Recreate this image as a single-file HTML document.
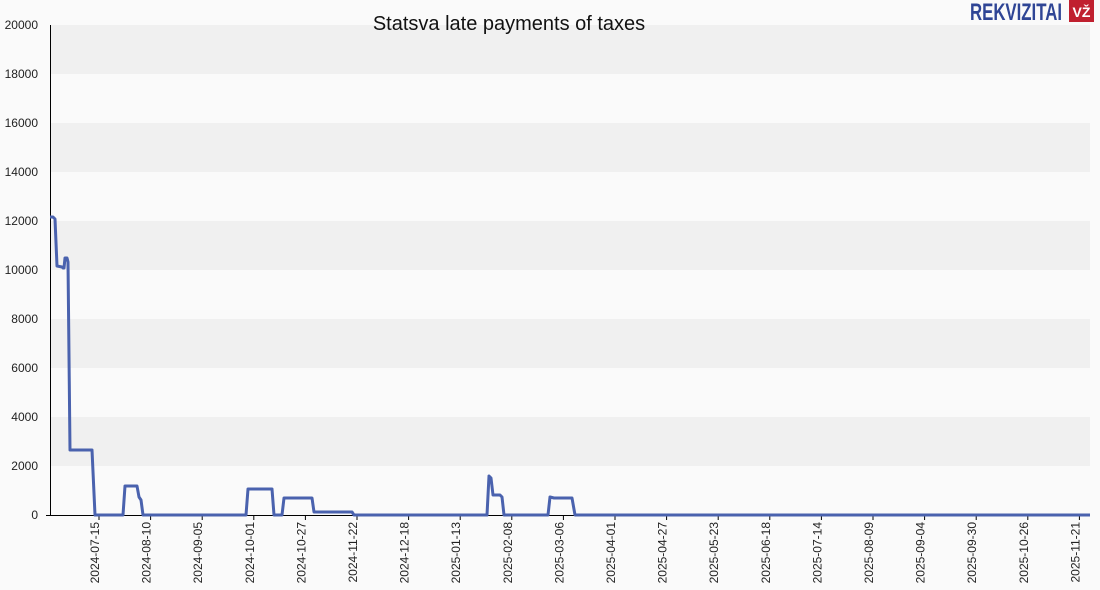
<!DOCTYPE html>
<html><head><meta charset="utf-8"><style>
body{margin:0;background:#fafafa;}
svg{display:block;font-family:"Liberation Sans",sans-serif;}
</style></head><body>
<svg width="1100" height="590" viewBox="0 0 1100 590" xmlns="http://www.w3.org/2000/svg">
<rect width="1100" height="590" fill="#fafafa"/>
<g fill="#f0f0f0">
<rect x="50" y="25" width="1040" height="49"/>
<rect x="50" y="123" width="1040" height="49"/>
<rect x="50" y="221" width="1040" height="49"/>
<rect x="50" y="319" width="1040" height="49"/>
<rect x="50" y="417" width="1040" height="49"/>
</g>
<text x="509" y="30" font-size="20" text-anchor="middle" fill="#111">Statsva late payments of taxes</text>
<text x="970" y="20" font-size="24" font-weight="bold" fill="#2f4595" textLength="92" lengthAdjust="spacingAndGlyphs">REKVIZITAI</text>
<rect x="1069" y="0" width="25" height="22" fill="#c0202f"/>
<text x="1081.5" y="17" font-size="14" font-weight="bold" fill="#fff" text-anchor="middle">VŽ</text>
<g stroke="#000" stroke-width="1">
<line x1="50.5" y1="25" x2="50.5" y2="515"/>
<line x1="46" y1="515.5" x2="1090" y2="515.5"/>
</g>
<g font-size="12" fill="#222" text-anchor="end">
<text x="38" y="519">0</text><text x="38" y="470">2000</text><text x="38" y="421">4000</text>
<text x="38" y="372">6000</text><text x="38" y="323">8000</text><text x="38" y="274">10000</text>
<text x="38" y="225">12000</text><text x="38" y="176">14000</text><text x="38" y="127">16000</text>
<text x="38" y="78">18000</text><text x="38" y="29">20000</text>
</g>
<g stroke="#000" stroke-width="1" id="ticks"></g>
<g font-size="12" fill="#222" id="xl"></g>
<polyline fill="none" stroke="#4a62ae" stroke-width="3" stroke-linejoin="round" points="50,217 53,217 55,219 57,266 62,267 63,268 64,268 65,258 67,258 68,262 70,450 72,450 92,450 95,515 123,515 125,486 137,486 139,497 141,500 143,515 246,515 248,489 272,489 274,515 282,515 284,498 312,498 314,512 352,512 354,515 487,515 489,476 491,478 493,495 500,495 502,497 504,515 548,515 550,497 554,498 572,498 575,515 1090,515"/>
</svg>
<script>
var d=["2024-07-15","2024-08-10","2024-09-05","2024-10-01","2024-10-27","2024-11-22","2024-12-18","2025-01-13","2025-02-08","2025-03-06","2025-04-01","2025-04-27","2025-05-23","2025-06-18","2025-07-14","2025-08-09","2025-09-04","2025-09-30","2025-10-26","2025-11-21"];
var ns="http://www.w3.org/2000/svg",t=document.getElementById("ticks"),xl=document.getElementById("xl");
d.forEach(function(s,i){var x=99+i*51.6;
var l=document.createElementNS(ns,"line");l.setAttribute("x1",x);l.setAttribute("x2",x);l.setAttribute("y1",515);l.setAttribute("y2",520);t.appendChild(l);
var e=document.createElementNS(ns,"text");e.setAttribute("transform","translate("+(x)+",522) rotate(-90)");e.setAttribute("text-anchor","end");e.textContent=s;xl.appendChild(e);});
</script>
</body></html>
